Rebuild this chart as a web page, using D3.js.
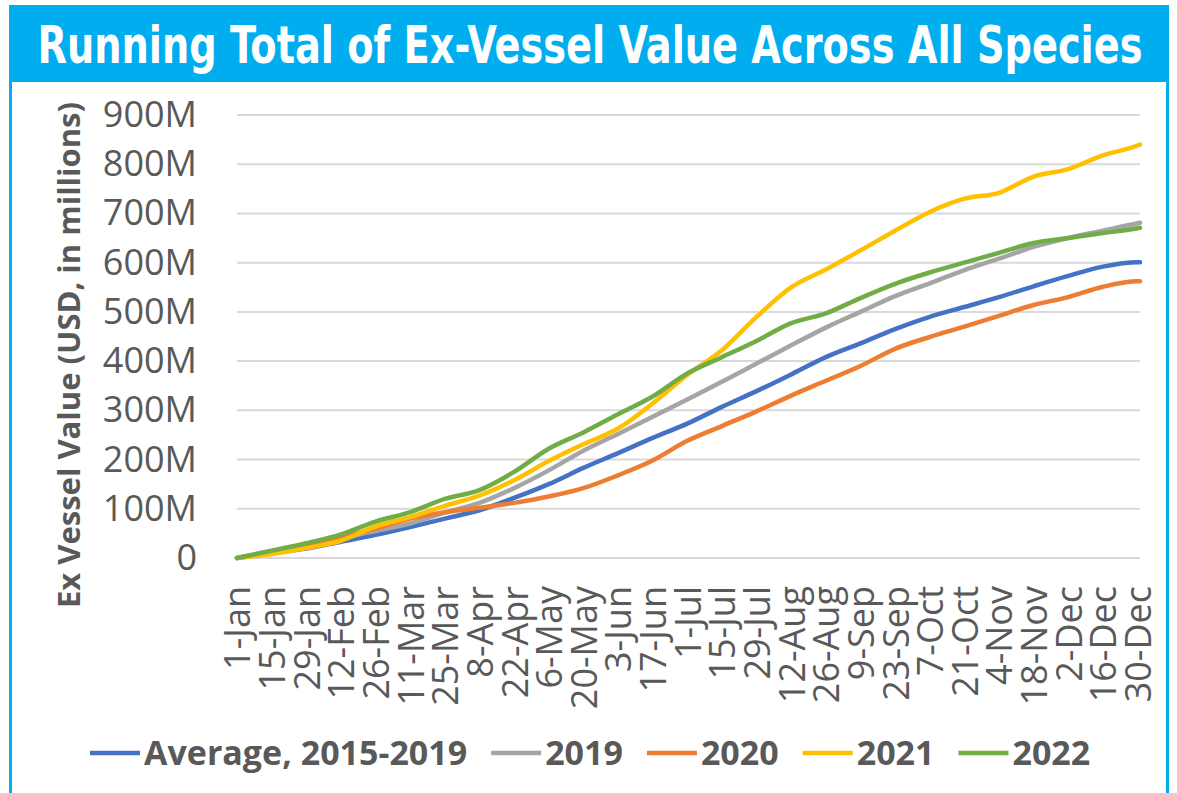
<!DOCTYPE html>
<html>
<head>
<meta charset="utf-8">
<script src="https://cdn.jsdelivr.net/npm/d3@7"></script>
<style>
  html, body { margin: 0; padding: 0; background: #ffffff; }
  svg { display: block; }
</style>
</head>
<body>
<svg id="chart" width="1177" height="793"></svg>
<script>
// ---- Data (values in millions USD) ----
const titleText = "Running Total of Ex-Vessel Value Across All Species";
const yAxisTitle = "Ex Vessel Value (USD, in millions)";
const dayIndex = [0,14,28,42,56,70,84,98,112,126,140,154,168,182,196,210,224,238,252,266,280,294,308,322,336,350,364,365];
const tickDays = [0,14,28,42,56,70,84,98,112,126,140,154,168,182,196,210,224,238,252,266,280,294,308,322,336,350,364];
const tickLabels = ["1-Jan","15-Jan","29-Jan","12-Feb","26-Feb","11-Mar","25-Mar","8-Apr","22-Apr","6-May","20-May","3-Jun","17-Jun","1-Jul","15-Jul","29-Jul","12-Aug","26-Aug","9-Sep","23-Sep","7-Oct","21-Oct","4-Nov","18-Nov","2-Dec","16-Dec","30-Dec"];
const yTicks = [0,100,200,300,400,500,600,700,800,900];
const seriesNames = ["Average, 2015-2019","2019","2020","2021","2022"];
const seriesColors = ["#4472C4","#A5A5A5","#ED7D31","#FFC000","#70AD47"];
const avg2015_2019 = [0,10,19,33,47,63,80,97,122,150,183,213,244,273,307,339,373,408,436,465,490,510,530,552,573,592,601,601];
const v2019 = [0,12,24,40,55,70,92,112,142,178,218,252,287,322,358,395,432,468,500,532,558,585,608,632,650,665,680,681];
const v2020 = [0,14,27,42,60,80,93,102,112,125,142,168,198,238,268,298,330,360,390,425,449,470,492,514,530,551,562,562];
const v2021 = [0,8,20,35,64,83,106,127,158,197,231,263,314,372,422,490,550,586,625,665,703,730,742,775,790,818,838,840];
const v2022 = [0,15,30,48,74,93,120,138,175,222,255,292,328,375,408,441,477,497,528,557,580,600,620,640,650,660,670,671];
// draw order: avg, 2019, 2020, 2021, 2022 (2022 on top)
const seriesValues = [avg2015_2019, v2019, v2020, v2021, v2022];

// ---- Drawing ----
const svg = d3.select("#chart");
const W = 1177, H = 793;
const accent = "#00AEEF";
const textGray = "#595959";
const font = "'Open Sans', 'Noto Sans', sans-serif";

// frame
svg.append("rect").attr("x", 0).attr("y", 0).attr("width", W).attr("height", H).attr("fill", "#fff");
svg.append("rect").attr("x", 9).attr("y", 5).attr("width", 1160).attr("height", 77).attr("fill", accent);
svg.append("line").attr("x1", 10.5).attr("x2", 10.5).attr("y1", 80).attr("y2", H).attr("stroke", accent).attr("stroke-width", 3);
svg.append("line").attr("x1", 1167.5).attr("x2", 1167.5).attr("y1", 80).attr("y2", H).attr("stroke", accent).attr("stroke-width", 3);

svg.append("text")
  .attr("x", 590).attr("y", 63)
  .attr("text-anchor", "middle")
  .attr("fill", "#fff")
  .attr("font-family", "'Liberation Sans Narrow', 'DejaVu Sans Condensed', 'Roboto Condensed', sans-serif")
  .attr("font-stretch", "condensed")
  .attr("font-weight", "bold")
  .attr("font-size", 52)
  .attr("textLength", 1105)
  .attr("lengthAdjust", "spacingAndGlyphs")
  .text(titleText);

const x = d3.scaleLinear().domain([0, 365]).range([237, 1140]);
const y = d3.scaleLinear().domain([0, 900]).range([558, 115]);

// gridlines
svg.append("g").selectAll("line").data(yTicks).join("line")
  .attr("x1", x(0)).attr("x2", x(365))
  .attr("y1", d => y(d)).attr("y2", d => y(d))
  .attr("stroke", "#D9D9D9").attr("stroke-width", 2);

// y axis
const yAxis = svg.append("g").attr("transform", `translate(${x(0)},0)`)
  .call(d3.axisLeft(y).tickValues(yTicks).tickSize(0).tickPadding(40)
    .tickFormat(d => d === 0 ? "0" : d + "M"));
yAxis.select(".domain").remove();
yAxis.selectAll("text")
  .attr("font-family", font).attr("font-size", 36).attr("fill", textGray);

// x axis
const xAxis = svg.append("g").attr("transform", `translate(0,${y(0)})`)
  .call(d3.axisBottom(x).tickValues(tickDays).tickSize(0)
    .tickFormat((d, i) => tickLabels[i]));
xAxis.select(".domain").remove();
xAxis.selectAll("text")
  .attr("font-family", font).attr("font-size", 36).attr("fill", textGray)
  .attr("text-anchor", "end")
  .attr("transform", "rotate(-90)")
  .attr("x", -28).attr("y", 0).attr("dy", "0.36em");

// y axis title
svg.append("text")
  .attr("transform", `translate(80,355) rotate(-90)`)
  .attr("text-anchor", "middle")
  .attr("font-family", font).attr("font-weight", "bold").attr("font-size", 31)
  .attr("fill", textGray)
  .text(yAxisTitle);

// lines
const line = d3.line().x((d, i) => x(dayIndex[i])).y(d => y(d)).curve(d3.curveMonotoneX);
svg.append("g").selectAll("path").data(seriesValues).join("path")
  .attr("d", d => line(d))
  .attr("fill", "none")
  .attr("stroke", (d, i) => seriesColors[i])
  .attr("stroke-width", 4.5)
  .attr("stroke-linejoin", "round")
  .attr("stroke-linecap", "round");

// legend
const legend = svg.append("g");
let cx = 90;
const ly = 753;
seriesNames.forEach((name, i) => {
  legend.append("line")
    .attr("x1", cx).attr("x2", cx + 50).attr("y1", ly).attr("y2", ly)
    .attr("stroke", seriesColors[i]).attr("stroke-width", 4.5);
  const t = legend.append("text")
    .attr("x", cx + 54).attr("y", ly).attr("dy", "0.35em")
    .attr("font-family", font).attr("font-weight", "bold").attr("font-size", 34)
    .attr("fill", textGray)
    .text(name);
  cx = cx + 54 + t.node().getComputedTextLength() + 24;
});
</script>
</body>
</html>
